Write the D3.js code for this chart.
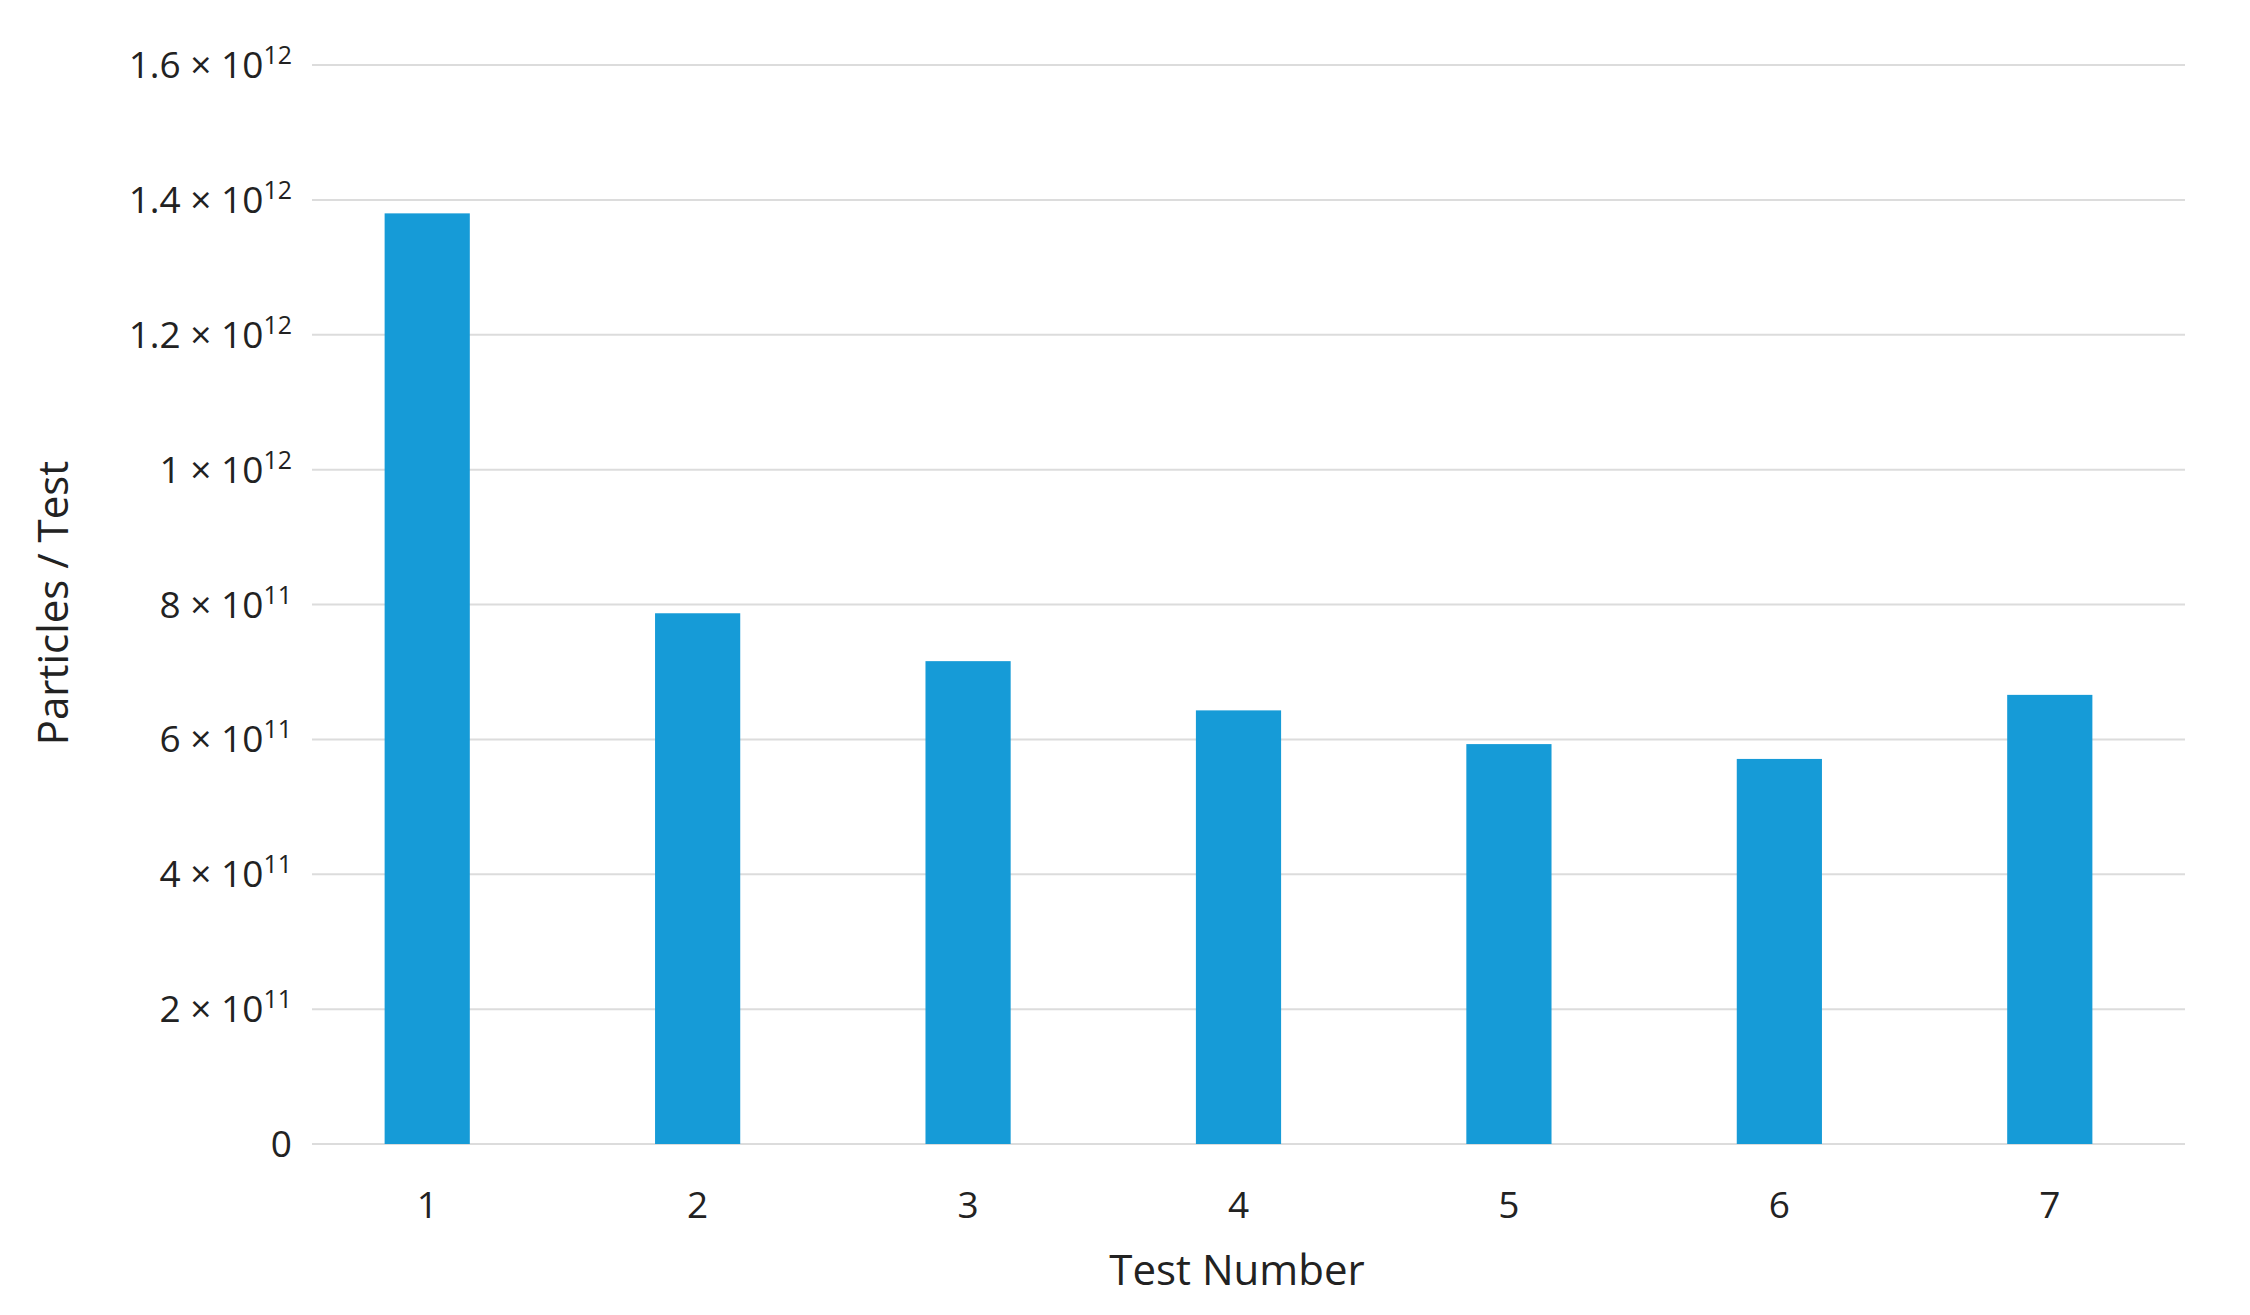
<!DOCTYPE html>
<html><head><meta charset="utf-8">
<script src="https://cdn.jsdelivr.net/npm/d3@7"></script>
<style>body{margin:0;background:#fff}text{font-family:"Open Sans",sans-serif;fill:#222}</style>
</head><body>
<svg id="c" width="2250" height="1315"></svg>
<script>
const categories = ["1","2","3","4","5","6","7"];
const values = [1.38e12, 0.787e12, 0.716e12, 0.643e12, 0.593e12, 0.571e12, 0.666e12];
const tickValues = [0, 2e11, 4e11, 6e11, 8e11, 1e12, 1.2e12, 1.4e12, 1.6e12];
const tickMantissa = ["0","2","4","6","8","1","1.2","1.4","1.6"];
const tickExp = ["","11","11","11","11","12","12","12","12"];

const svg = d3.select("#c");
const x = d3.scaleBand().domain(categories).range([292, 2185]).paddingInner(0.685).paddingOuter(0.3425);
const y = d3.scaleLinear().domain([0, 1.6e12]).range([1144, 65]);

svg.append("g").selectAll("line").data(tickValues).join("line")
  .attr("x1", 312).attr("x2", 2185)
  .attr("y1", d => y(d)).attr("y2", d => y(d))
  .attr("stroke", "#dcdcdc").attr("stroke-width", 2);

svg.append("g").selectAll("rect").data(values).join("rect")
  .attr("x", (d,i) => x(categories[i])).attr("width", x.bandwidth())
  .attr("y", d => y(d)).attr("height", d => y(0) - y(d))
  .attr("fill", "#169BD7");

const yl = svg.append("g").selectAll("text").data(tickValues).join("text")
  .attr("x", 292).attr("y", (d) => y(d) + 13)
  .attr("text-anchor", "end").attr("font-size", 37);
yl.each(function(d,i){
  const t = d3.select(this);
  if (!tickExp[i]) { t.text(tickMantissa[i]); return; }
  t.append("tspan").text(tickMantissa[i] + " × 10");
  t.append("tspan").attr("dy", -14).attr("font-size", 25).text(tickExp[i]);
});

svg.append("g").selectAll("text").data(categories).join("text")
  .attr("x", d => x(d) + x.bandwidth()/2).attr("y", 1218)
  .attr("text-anchor", "middle").attr("font-size", 37).text(d => d);

svg.append("text").attr("x", 1237).attr("y", 1285).attr("text-anchor", "middle")
  .attr("font-size", 42).text("Test Number");
svg.append("text").attr("transform", "translate(68,603) rotate(-90)").attr("text-anchor", "middle")
  .attr("font-size", 42).text("Particles / Test");
</script>
</body></html>
